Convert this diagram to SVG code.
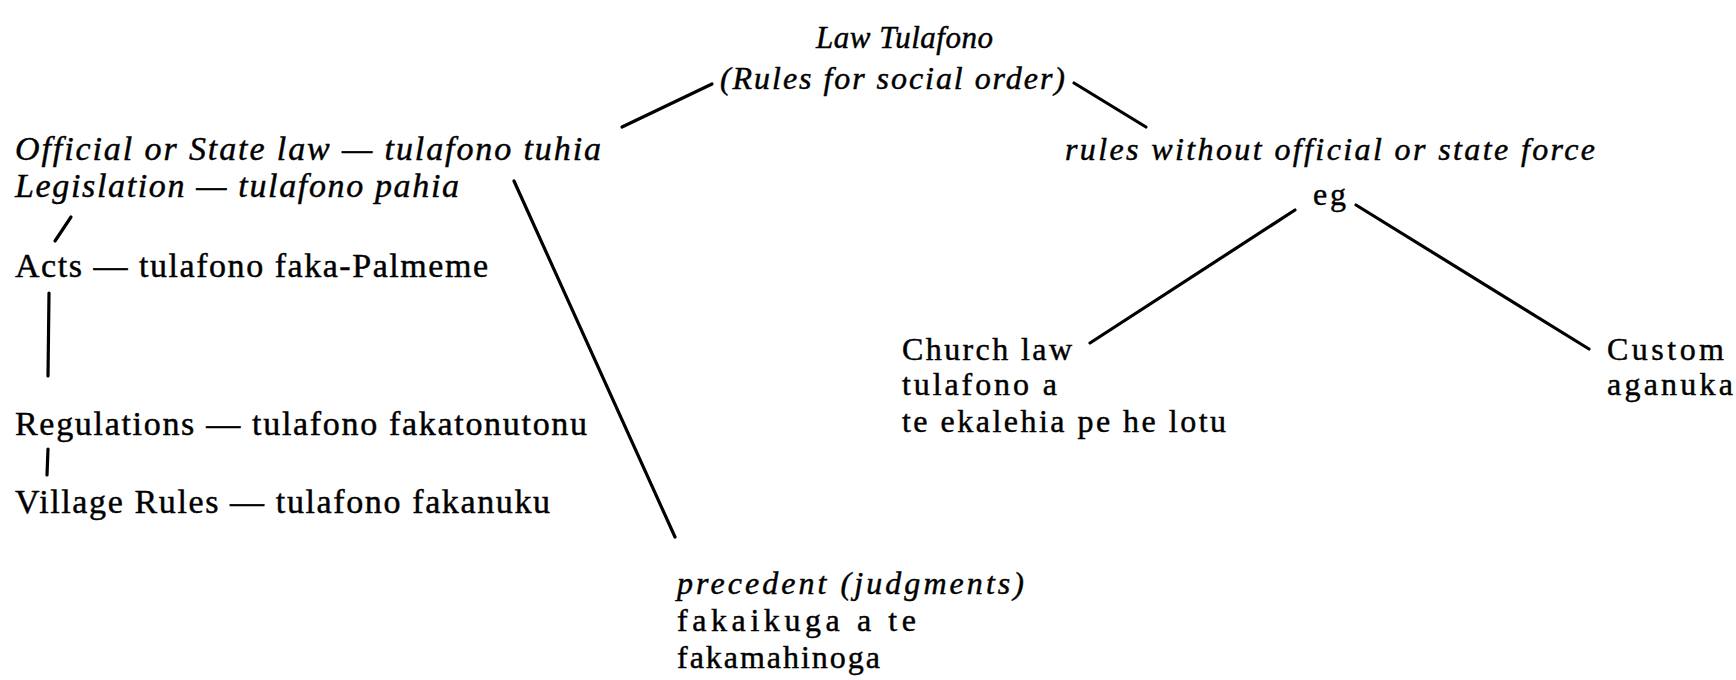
<svg xmlns="http://www.w3.org/2000/svg" width="1736" height="680" viewBox="0 0 1736 680">
<style>
text{font-family:"Liberation Serif","Times New Roman",serif;font-size:32px;fill:#000;stroke:#000;stroke-width:0.45}
.i{font-style:italic}
.l{font-size:34px}
.c line{stroke:#000;stroke-width:3.2;stroke-linecap:round}
</style>
<rect width="1736" height="680" fill="#fff"/>
<g class="c" id="connectors">
<line x1="712" y1="84" x2="622" y2="127"/>
<line x1="1074" y1="83" x2="1146" y2="127"/>
<line x1="71" y1="217" x2="55" y2="241"/>
<line x1="49" y1="293" x2="48" y2="376"/>
<line x1="48" y1="449" x2="47" y2="475"/>
<line x1="514" y1="181" x2="675" y2="537"/>
<line x1="1295" y1="210" x2="1090" y2="343"/>
<line x1="1356" y1="205" x2="1589" y2="349"/>
</g>
<g id="root">
<text class="i" x="816" y="48" textLength="177" style="font-size:31px">Law Tulafono</text>
<text class="i" x="720" y="89" textLength="345">(Rules for social order)</text>
</g>
<g id="official">
<text class="i l" x="15" y="160" textLength="586">Official or State law — tulafono tuhia</text>
<text class="i l" x="15" y="197" textLength="444">Legislation — tulafono pahia</text>
</g>
<g id="acts"><text class="l" x="15" y="277" textLength="473">Acts — tulafono faka-Palmeme</text></g>
<g id="regulations"><text class="l" x="15" y="435" textLength="572">Regulations — tulafono fakatonutonu</text></g>
<g id="village"><text class="l" x="15" y="513" textLength="535">Village Rules — tulafono fakanuku</text></g>
<g id="precedent">
<text class="i" x="677" y="594" textLength="347">precedent (judgments)</text>
<text x="677" y="631" textLength="239">fakaikuga a te</text>
<text x="677" y="668" textLength="203">fakamahinoga</text>
</g>
<g id="unofficial">
<text class="i" x="1065" y="160" textLength="530">rules without official or state force</text>
<text x="1313" y="205" textLength="33">eg</text>
</g>
<g id="church">
<text x="902" y="360" textLength="170">Church law</text>
<text x="902" y="395" textLength="155">tulafono a</text>
<text x="902" y="432" textLength="324">te ekalehia pe he lotu</text>
</g>
<g id="custom">
<text x="1607" y="360" textLength="117">Custom</text>
<text x="1607" y="395" textLength="126">aganuka</text>
</g>
</svg>
